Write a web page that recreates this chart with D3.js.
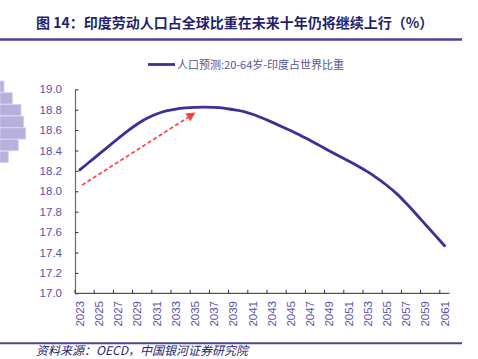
<!DOCTYPE html>
<html>
<head>
<meta charset="utf-8">
<script src="https://cdn.jsdelivr.net/npm/d3@7"></script>
<style>
  html, body { margin: 0; padding: 0; background: #fff; }
  svg { display: block; }
</style>
</head>
<body>
<svg id="chart" width="478" height="359"></svg>
<script>
const titleText = "图 14：印度劳动人口占全球比重在未来十年仍将继续上行（%）";
const sourceText = "资料来源：OECD，中国银河证券研究院";
const seriesName = "人口预测:20-64岁-印度占世界比重";
const years = d3.range(2023, 2062);
const shareValues = [
  18.21, 18.287, 18.364, 18.441, 18.518, 18.593, 18.66, 18.716, 18.758, 18.788,
  18.806, 18.817, 18.823, 18.825, 18.823, 18.815, 18.80, 18.784, 18.755, 18.718,
  18.678, 18.636, 18.593, 18.548, 18.499, 18.448, 18.396, 18.345, 18.297, 18.246,
  18.19, 18.127, 18.057, 17.977, 17.882, 17.78, 17.675, 17.57, 17.466
];
const yTicks = [17.0, 17.2, 17.4, 17.6, 17.8, 18.0, 18.2, 18.4, 18.6, 18.8, 19.0];
const xLabelYears = years.filter(y => (y - 2023) % 2 === 0);
const arrowFrom = { year: 2023.23, value: 18.06 };
const arrowTo = { year: 2035.05, value: 18.772 };
const logoBars = [4, 12.3, 21, 23.7, 25.7, 18.3, 8.3];

const svg = d3.select("#chart");
const lineColor = "#3b2f98";
const tickColor = "#5a50a8";

// Decorative logo bars (top-left)
const logoY = d3.scaleBand().domain(d3.range(logoBars.length)).range([81, 162.5]).paddingInner(0.04);
svg.append("g").selectAll("rect").data(logoBars).join("rect")
  .attr("x", 0).attr("y", (d, i) => logoY(i))
  .attr("width", d => d).attr("height", logoY.bandwidth())
  .attr("fill", "#b6b0dc").attr("stroke", "#d6d2ee").attr("stroke-width", 0.8);

// Title
svg.append("text").attr("x", 36).attr("y", 28)
  .attr("font-family", "'Noto Sans CJK SC', sans-serif")
  .attr("font-weight", "bold").attr("font-size", 14)
  .attr("fill", "#1f1f6b").text(titleText);
svg.append("line").attr("x1", 0).attr("x2", 462).attr("y1", 39.5).attr("y2", 39.5)
  .attr("stroke", "#4d4399").attr("stroke-width", 2.5);

// Scales
const x = d3.scalePoint().domain(years).range([75, 449.4]).padding(0.5);
const step = x.step();
const y = d3.scaleLinear().domain([17, 19]).range([293.3, 89.3]);

// Y axis
const yAxis = svg.append("g").attr("transform", "translate(75,0)")
  .call(d3.axisLeft(y).tickValues(yTicks).tickFormat(d3.format(".1f")).tickSizeInner(-3.5).tickSizeOuter(0).tickPadding(13));
yAxis.select(".domain").attr("stroke", "#6b6b6b").attr("stroke-width", 1.2);
yAxis.selectAll(".tick line").attr("stroke", "#333").attr("stroke-width", 1);
yAxis.selectAll(".tick text").attr("fill", tickColor)
  .attr("font-family", "Arial, 'Liberation Sans', sans-serif").attr("font-size", 11.5);

// X axis line and ticks at category boundaries
const xAxisG = svg.append("g");
xAxisG.append("line").attr("x1", 75).attr("x2", 75 + step * years.length)
  .attr("y1", y(17)).attr("y2", y(17)).attr("stroke", "#555").attr("stroke-width", 1.2);
xAxisG.selectAll("line.tk").data(xLabelYears).join("line").attr("class", "tk")
  .attr("x1", d => x(d) - step / 2).attr("x2", d => x(d) - step / 2)
  .attr("y1", y(17)).attr("y2", y(17) - 3.5).attr("stroke", "#333").attr("stroke-width", 1);
xAxisG.selectAll("text").data(xLabelYears).join("text")
  .attr("transform", d => `translate(${x(d) + 4},301) rotate(-90)`)
  .attr("text-anchor", "end")
  .attr("font-family", "Arial, 'Liberation Sans', sans-serif").attr("font-size", 11.5)
  .attr("fill", tickColor).text(d => d);

// Line
const line = d3.line().x((d, i) => x(years[i])).y(d => y(d)).curve(d3.curveCatmullRom.alpha(0.5));
svg.append("path").datum(shareValues).attr("d", line)
  .attr("fill", "none").attr("stroke", lineColor).attr("stroke-width", 2.8)
  .attr("stroke-linejoin", "round").attr("stroke-linecap", "round");

// Red dashed arrow annotation
const yearX = d3.scaleLinear().domain([2023, 2061]).range([x(2023), x(2061)]);
const ax1 = yearX(arrowFrom.year), ay1 = y(arrowFrom.value);
const ax2 = yearX(arrowTo.year), ay2 = y(arrowTo.value);
const ang = Math.atan2(ay2 - ay1, ax2 - ax1);
const headLen = 9, headW = 4.5;
const bx = ax2 - headLen * Math.cos(ang), by = ay2 - headLen * Math.sin(ang);
svg.append("line").attr("x1", ax1).attr("y1", ay1).attr("x2", bx).attr("y2", by)
  .attr("stroke", "#ff3b3b").attr("stroke-width", 1.6).attr("stroke-dasharray", "4,2.5");
svg.append("path")
  .attr("d", `M${ax2},${ay2} L${bx + headW * Math.sin(ang)},${by - headW * Math.cos(ang)} L${bx - headW * Math.sin(ang)},${by + headW * Math.cos(ang)} Z`)
  .attr("fill", "#ff3b3b");

// Legend
svg.append("line").attr("x1", 148).attr("x2", 175).attr("y1", 64.5).attr("y2", 64.5)
  .attr("stroke", lineColor).attr("stroke-width", 2.8);
svg.append("text").attr("x", 177).attr("y", 68.5)
  .attr("font-family", "'Noto Sans CJK SC', sans-serif").attr("font-size", 11)
  .attr("fill", "#55558f").text(seriesName);

// Source
svg.append("line").attr("x1", 0).attr("x2", 462).attr("y1", 343.3).attr("y2", 343.3)
  .attr("stroke", "#4d4399").attr("stroke-width", 2);
svg.append("text").attr("x", 36).attr("y", 354.5)
  .attr("font-family", "'Noto Sans CJK SC', serif").attr("font-style", "italic")
  .attr("font-size", 12).attr("fill", "#1f1f6b").text(sourceText);
</script>
</body>
</html>
